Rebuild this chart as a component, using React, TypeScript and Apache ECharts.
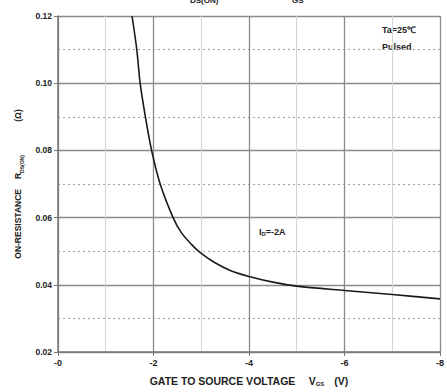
import React, { useEffect, useRef } from "react";
import * as echarts from "echarts";

// Gate-to-source voltage (V) and on-resistance (ohm)
const vgs = [-1.55, -1.65, -1.72, -1.83, -1.96, -2.14, -2.41, -2.58, -2.79, -2.96, -3.27, -3.62, -4.0, -4.5, -5.0, -6.0, -7.0, -8.0];
const rdson = [0.12, 0.11, 0.1, 0.09, 0.08, 0.07, 0.06, 0.0556, 0.0521, 0.0498, 0.0467, 0.0442, 0.0425, 0.0408, 0.0396, 0.0383, 0.0371, 0.0358];
const xTicks = [0, -2, -4, -6, -8];
const yTicks = [0.02, 0.04, 0.06, 0.08, 0.1, 0.12];

const FONT = "'Liberation Sans', Arial, sans-serif";
const TXT = "#222";

export default function App() {
  const ref = useRef<HTMLDivElement>(null);
  useEffect(() => {
    document.body.style.margin = "0";
    const chart = echarts.init(ref.current!, null, { renderer: "svg" });
    const data = vgs.map((v, i) => [v, rdson[i]]);
    chart.setOption({
      animation: false,
      backgroundColor: "#fff",
      textStyle: { fontFamily: FONT },
      grid: { left: 58, right: 2, top: 16, bottom: 39 },
      xAxis: {
        type: "value",
        inverse: true,
        min: xTicks[xTicks.length - 1],
        max: xTicks[0],
        interval: 2,
        axisLine: { show: true, lineStyle: { color: "#777", width: 1.5 } },
        axisTick: { show: true, length: 4, lineStyle: { color: "#777" } },
        axisLabel: {
          color: TXT, fontSize: 9, fontWeight: "bold", margin: 6,
          formatter: (v: number) => "-" + Math.abs(Math.round(v)),
        },
        splitLine: { show: true, lineStyle: { color: "#8a8a8a", width: 1.3 } },
        minorTick: { show: false, splitNumber: 2 },
        minorSplitLine: { show: true, lineStyle: { color: "#d4d4d4", width: 1 } },
        name: "{a|GATE TO SOURCE VOLTAGE}    {a|V}{s|GS}   {a|(V)}",
        nameLocation: "middle",
        nameGap: 23,
        nameTextStyle: {
          rich: {
            a: { fontSize: 10.5, color: TXT, fontFamily: FONT, fontWeight: "bold" },
            s: { fontSize: 6, color: TXT, fontFamily: FONT, fontWeight: "bold", verticalAlign: "bottom", padding: [6, 0, 0, 0] },
          },
        },
      },
      yAxis: {
        type: "value",
        min: yTicks[0],
        max: yTicks[yTicks.length - 1],
        interval: 0.02,
        axisLine: { show: true, lineStyle: { color: "#777", width: 1.5 } },
        axisTick: { show: true, length: 4, lineStyle: { color: "#777" } },
        axisLabel: {
          color: TXT, fontSize: 8.5, fontWeight: "bold", margin: 6,
          formatter: (v: number) => v.toFixed(2),
        },
        splitLine: { show: true, lineStyle: { color: "#8a8a8a", width: 1.3 } },
        minorTick: { show: false, splitNumber: 2 },
        minorSplitLine: { show: true, lineStyle: { color: "#a0a0a0", width: 1, type: [2, 3] } },
        name: "{a|ON-RESISTANCE}   {a|R}{s|DS(ON)}          {a|(Ω)}",
        nameLocation: "middle",
        nameRotate: 90,
        nameGap: 34,
        nameTextStyle: {
          rich: {
            a: { fontSize: 8.5, color: TXT, fontFamily: FONT, fontWeight: "bold" },
            s: { fontSize: 5, color: TXT, fontFamily: FONT, fontWeight: "bold", verticalAlign: "bottom", padding: [5, 0, 0, 0] },
          },
        },
      },
      series: [
        {
          type: "line",
          data,
          smooth: 0.3,
          symbol: "none",
          lineStyle: { color: "#1a1a1a", width: 1.6 },
        },
      ],
      graphic: [
        { type: "text", left: 382, top: 25, style: { text: "Ta=25℃", fontSize: 9, fontWeight: "bold", fill: TXT, fontFamily: FONT } },
        { type: "text", left: 382, top: 42, style: { text: "Pulsed", fontSize: 9, fontWeight: "bold", fill: TXT, fontFamily: FONT } },
        {
          type: "text", left: 259, top: 227,
          style: {
            text: "{a|I}{s|D}{a|=-2A}", fill: TXT,
            rich: {
              a: { fontSize: 9, fontWeight: "bold", fill: TXT, fontFamily: FONT },
              s: { fontSize: 6, fontWeight: "bold", fill: TXT, fontFamily: FONT, padding: [5, 0, 0, 0] },
            },
          },
        },
        { type: "text", x: 190, y: -4, style: { text: "DS(ON)", fontSize: 8, fontWeight: "bold", fill: TXT, fontFamily: FONT } },
        { type: "text", x: 292, y: -4, style: { text: "GS", fontSize: 8, fontWeight: "bold", fill: TXT, fontFamily: FONT } },
      ],
    });
    return () => chart.dispose();
  }, []);
  return <div ref={ref} style={{ width: 447, height: 392 }} />;
}
